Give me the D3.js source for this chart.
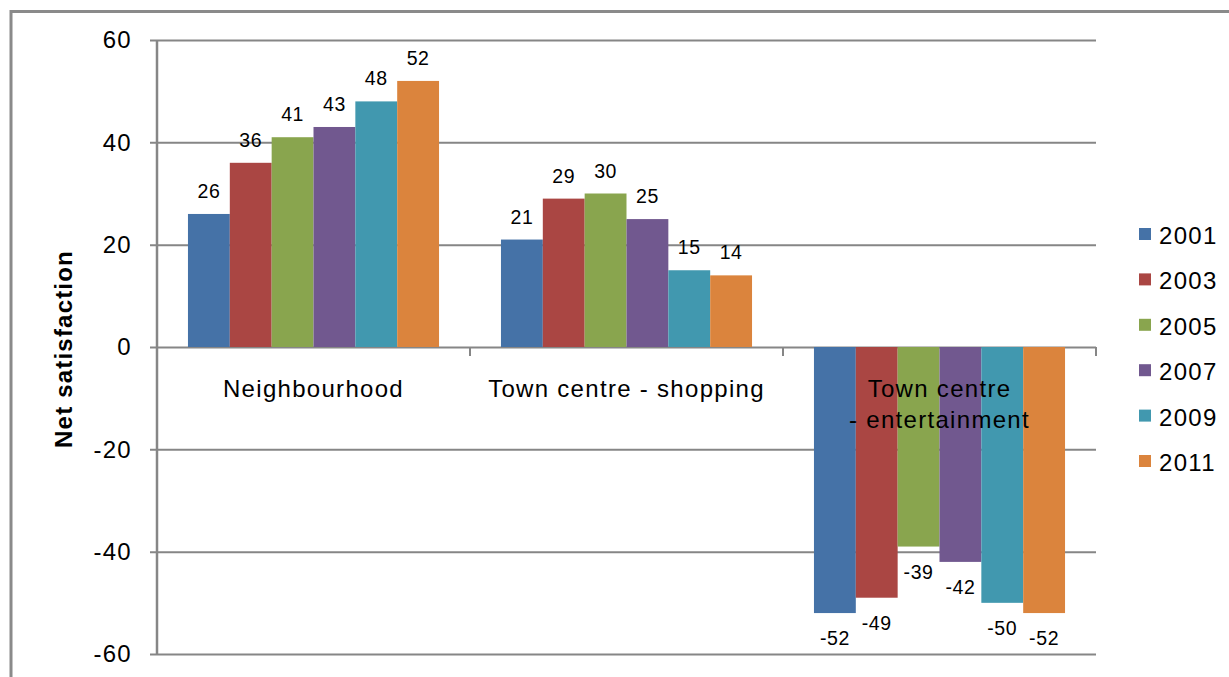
<!DOCTYPE html>
<html>
<head>
<meta charset="utf-8">
<script src="https://cdn.jsdelivr.net/npm/d3@7"></script>
<style>
  html, body { margin: 0; padding: 0; background: #fff; }
  svg { display: block; font-family: "Liberation Sans", Arial, sans-serif; }
</style>
</head>
<body>
<svg id="chart" width="1229" height="677"></svg>
<script>
// Net satisfaction by area type, survey years 2001–2011
const categories = ["Neighbourhood", "Town centre - shopping", "Town centre\n- entertainment"];
const years = ["2001", "2003", "2005", "2007", "2009", "2011"];
const values2001 = [26, 21, -52];
const values2003 = [36, 29, -49];
const values2005 = [41, 30, -39];
const values2007 = [43, 25, -42];
const values2009 = [48, 15, -50];
const values2011 = [52, 14, -52];
const yTicks = [60, 40, 20, 0, -20, -40, -60];
const colors = ["#4572A7", "#AA4643", "#89A54E", "#71588F", "#4198AF", "#DB843D"];

const seriesValues = [values2001, values2003, values2005, values2007, values2009, values2011];
const rows = categories.map((c, ci) => ({
  category: c,
  values: years.map((yr, si) => ({ year: yr, value: seriesValues[si][ci] }))
}));

// plain hyphen-minus for negative numbers
const fmt = v => String(v);

const svg = d3.select("#chart");
const plot = { left: 157, right: 1096, top: 40, bottom: 654 };
const gridColor = "#868686";

// outer frame (top and left edges)
svg.append("path")
  .attr("d", `M11,677 V11.5 H1229`)
  .attr("fill", "none").attr("stroke", "#8a8a8a").attr("stroke-width", 3);

const y = d3.scaleLinear().domain([-60, 60]).range([plot.bottom, plot.top]);
const x0 = d3.scaleBand().domain(categories).range([plot.left, plot.right]).paddingInner(0).paddingOuter(0);
const x1 = d3.scaleBand().domain(years).range([0, x0.bandwidth()]).paddingInner(0).paddingOuter(0.74);
const color = d3.scaleOrdinal().domain(years).range(colors);

// horizontal gridlines with tick labels
const yAxis = d3.axisLeft(y).tickValues(yTicks).tickSize(0).tickFormat(fmt);
const gy = svg.append("g").attr("transform", `translate(${plot.left},0)`).call(yAxis);
gy.select(".domain").remove();
gy.selectAll(".tick line")
  .attr("x1", -7).attr("x2", plot.right - plot.left)
  .attr("stroke", gridColor).attr("stroke-width", 2);
gy.selectAll(".tick text")
  .attr("x", -25)
  .attr("font-size", 24).attr("letter-spacing", "1.3px")
  .attr("fill", "#000").attr("font-family", "Liberation Sans, Arial, sans-serif");

// bars
const groups = svg.append("g").selectAll("g").data(rows).join("g")
  .attr("transform", d => `translate(${x0(d.category)},0)`);

groups.selectAll("rect").data(d => d.values).join("rect")
  .attr("x", d => x1(d.year))
  .attr("width", x1.bandwidth())
  .attr("y", d => y(Math.max(0, d.value)))
  .attr("height", d => Math.abs(y(d.value) - y(0)))
  .attr("fill", d => color(d.year));

// value labels
groups.selectAll("text.val").data(d => d.values).join("text")
  .attr("class", "val")
  .attr("x", d => x1(d.year) + x1.bandwidth() / 2)
  .attr("y", d => d.value >= 0 ? y(d.value) - 16 : y(d.value) + 32)
  .attr("text-anchor", "middle")
  .attr("font-size", 19.5).attr("letter-spacing", "0.6px")
  .attr("fill", "#000")
  .text(d => fmt(d.value));

// y axis line
svg.append("line")
  .attr("x1", plot.left).attr("x2", plot.left)
  .attr("y1", plot.top).attr("y2", plot.bottom)
  .attr("stroke", gridColor).attr("stroke-width", 2.5);

// category axis along zero with tick marks
const gx = svg.append("g").attr("transform", `translate(0,${y(0)})`);
const boundaries = categories.map(c => x0(c) + x0.bandwidth()).concat([plot.left]);
gx.selectAll("line.cat").data(boundaries).join("line")
  .attr("class", "cat")
  .attr("x1", d => d).attr("x2", d => d)
  .attr("y1", 0).attr("y2", 9)
  .attr("stroke", gridColor).attr("stroke-width", 2);

// category labels (multi-line where needed)
const catLabels = svg.append("g").selectAll("text").data(categories).join("text")
  .attr("x", d => x0(d) + x0.bandwidth() / 2)
  .attr("y", 397)
  .attr("text-anchor", "middle")
  .attr("font-size", 24).attr("letter-spacing", "1.3px")
  .attr("fill", "#000");
catLabels.each(function(d) {
  const t = d3.select(this);
  d.split("\n").forEach((line, i) => {
    t.append("tspan")
      .attr("x", x0(d) + x0.bandwidth() / 2)
      .attr("dy", i === 0 ? 0 : 31)
      .text(line);
  });
});

// y axis title
svg.append("text")
  .attr("transform", `translate(72,${(plot.top + plot.bottom) / 2 + 2}) rotate(-90)`)
  .attr("text-anchor", "middle")
  .attr("font-size", 24).attr("font-weight", "bold").attr("letter-spacing", "1.2px")
  .attr("fill", "#000")
  .text("Net satisfaction");

// legend
const legend = svg.append("g").selectAll("g").data(years).join("g")
  .attr("transform", (d, i) => `translate(1139,${228 + i * 45.4})`);
legend.append("rect")
  .attr("width", 12).attr("height", 12)
  .attr("fill", d => color(d));
legend.append("text")
  .attr("x", 20).attr("y", 16)
  .attr("font-size", 24).attr("letter-spacing", "1.3px")
  .attr("fill", "#000")
  .text(d => d);
</script>
</body>
</html>
